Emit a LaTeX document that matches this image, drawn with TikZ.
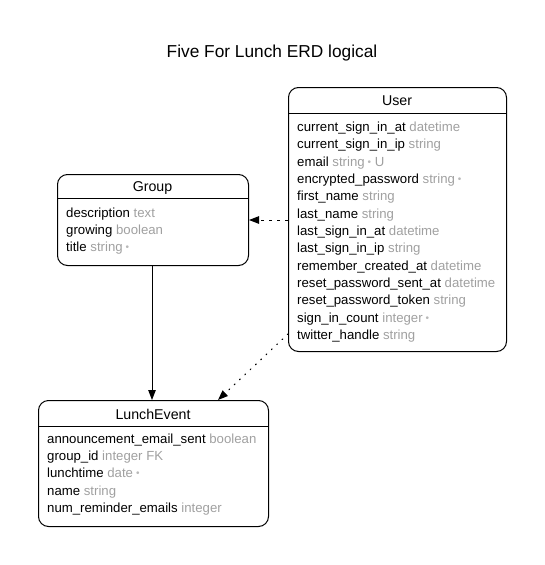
\documentclass[tikz,border=0pt]{standalone}
\usepackage{fontspec}
\setmainfont{Liberation Sans}
\usetikzlibrary{arrows.meta}
\definecolor{typegray}{HTML}{A0A0A0}
\definecolor{dotgray}{HTML}{B8B8B8}
\newcommand\tg[1]{\textcolor{typegray}{#1}}
\newcommand\mand{\hspace{3pt}\raisebox{1.2pt}{\fontsize{10}{10}\selectfont\textcolor{dotgray}{•}}}
\begin{document}
\begin{tikzpicture}[x=1pt,y=-1pt,
  entity/.style={draw, line width=1pt, rounded corners=10pt, anchor=north west, inner sep=0pt, minimum width=#1},
  rowtext/.style={anchor=base west, inner sep=0pt, font=\fontsize{13.2}{15}\selectfont},
  headtext/.style={anchor=base, inner sep=0pt, font=\fontsize{14.2}{16}\selectfont},
  conn/.style={line width=1pt, -{Triangle[length=10pt,width=7.5pt]}}]
\useasboundingbox (0,0) rectangle (545,565);

\node[anchor=base, inner sep=0pt, font=\fontsize{17.3}{20}\selectfont] (title) at (272,57) {Five For Lunch ERD logical};

% User
\node[entity=218pt, minimum height=264pt] (user) at (288,87) {};
\node[headtext] (userh) at (397,105) {User};
\draw[line width=1pt] (288,113) -- (506,113);
\node[rowtext] (u1) at (297,131.5) {current\_sign\_in\_at \tg{datetime}};
\node[rowtext] (u2) at (297,148.8) {current\_sign\_in\_ip \tg{string}};
\node[rowtext] (u3) at (297,166.2) {email \tg{string}\mand\ \tg{U}};
\node[rowtext] (u4) at (297,183.5) {encrypted\_password \tg{string}\mand};
\node[rowtext] (u5) at (297,200.8) {first\_name \tg{string}};
\node[rowtext] (u6) at (297,218.2) {last\_name \tg{string}};
\node[rowtext] (u7) at (297,235.5) {last\_sign\_in\_at \tg{datetime}};
\node[rowtext] (u8) at (297,252.8) {last\_sign\_in\_ip \tg{string}};
\node[rowtext] (u9) at (297,270.2) {remember\_created\_at \tg{datetime}};
\node[rowtext] (u10) at (297,287.5) {reset\_password\_sent\_at \tg{datetime}};
\node[rowtext] (u11) at (297,304.8) {reset\_password\_token \tg{string}};
\node[rowtext] (u12) at (297,322.2) {sign\_in\_count \tg{integer}\mand};
\node[rowtext] (u13) at (297,339.5) {twitter\_handle \tg{string}};

% Group
\node[entity=191pt, minimum height=91pt] (group) at (57,174) {};
\node[headtext] (grouph) at (152.5,191.5) {Group};
\draw[line width=1pt] (57,198) -- (248,198);
\node[rowtext] (g1) at (66,217) {description \tg{text}};
\node[rowtext] (g2) at (66,234.3) {growing \tg{boolean}};
\node[rowtext] (g3) at (66,251.7) {title \tg{string}\mand};

% LunchEvent
\node[entity=230pt, minimum height=126pt] (lunch) at (38,400) {};
\node[headtext] (lunchh) at (153,419) {LunchEvent};
\draw[line width=1pt] (38,426) -- (268,426);
\node[rowtext] (l1) at (47,443) {announcement\_email\_sent \tg{boolean}};
\node[rowtext] (l2) at (47,460.3) {group\_id \tg{integer FK}};
\node[rowtext] (l3) at (47,477.7) {lunchtime \tg{date}\mand};
\node[rowtext] (l4) at (47,495) {name \tg{string}};
\node[rowtext] (l5) at (47,512.3) {num\_reminder\_emails \tg{integer}};

% connectors
\coordinate (userA) at (user.west |- 0,220);
\coordinate (groupA) at (group.east |- 0,220);
\draw[conn, dash pattern=on 3pt off 5pt] (userA) -- (groupA);

\coordinate (groupB) at (group.south -| 152,0);
\coordinate (lunchB) at (lunch.north -| 152,0);
\draw[conn] (groupB) -- (lunchB);

\coordinate (userC) at (user.west |- 0,334);
\coordinate (lunchC) at (218,400);
\draw[conn, line cap=round, line width=1.2pt, dash pattern=on 0.8pt off 6.5pt] (userC) -- (lunchC);
\end{tikzpicture}
\end{document}
